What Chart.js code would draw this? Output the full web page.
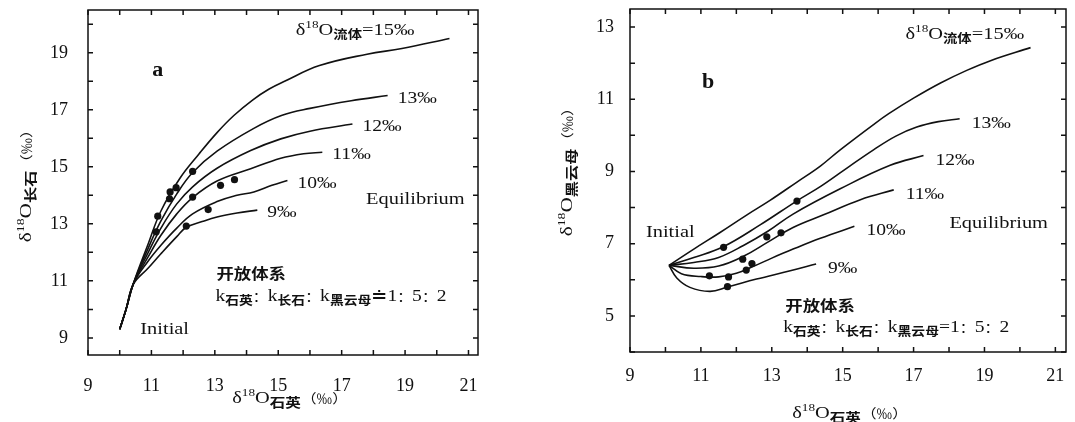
<!DOCTYPE html>
<html>
<head>
<meta charset="utf-8">
<script src="https://cdn.jsdelivr.net/npm/chart.js@4.4.0/dist/chart.umd.min.js"></script>
<style>
    body { margin: 0; background: #fff; width: 1075px; height: 422px; overflow: hidden; position: relative; }
    .panel { position: absolute; top: 0; height: 422px; }
    #wrapA { left: 0; width: 540px; }
    #wrapB { left: 540px; width: 535px; }
</style>
</head>
<body>
<div class="panel" id="wrapA"><canvas id="chartA"></canvas></div>
<div class="panel" id="wrapB"><canvas id="chartB"></canvas></div>
<script>
// tick labels
const xTicks = [9, 11, 13, 15, 17, 19, 21];
const yTicksA = [9, 11, 13, 15, 17, 19];
const yTicksB = [5, 7, 9, 11, 13];

// fluid δ18O of each curve (‰), same order as the curve lists below
const fluidValues = [15, 13, 12, 11, 10, 9];

// panel a: δ18O quartz vs δ18O feldspar
const curveA15 = [[10.0, 9.3], [10.2, 10.0], [10.43, 10.9], [10.9, 12.3], [11.3, 13.45], [11.9, 14.6], [12.5, 15.45], [13.07, 16.2], [13.6, 16.8], [14.2, 17.35], [14.7, 17.72], [15.2, 18.0], [16.3, 18.55], [17.8, 18.95], [18.9, 19.15], [20.4, 19.5]];
const curveA13 = [[10.0, 9.3], [10.2, 10.0], [10.43, 10.9], [10.9, 12.15], [11.3, 13.1], [11.8, 14.05], [12.3, 14.8], [13.07, 15.55], [14.23, 16.35], [15.1, 16.8], [16.0, 17.05], [17.3, 17.32], [18.45, 17.5]];
const curveA12 = [[10.0, 9.3], [10.2, 10.0], [10.43, 10.9], [10.9, 12.0], [11.3, 12.85], [11.8, 13.7], [12.3, 14.3], [13.07, 14.95], [14.13, 15.57], [15.08, 15.98], [16.0, 16.25], [17.34, 16.5]];
const curveA11 = [[10.0, 9.3], [10.2, 10.0], [10.43, 10.9], [10.9, 11.85], [11.3, 12.6], [11.8, 13.35], [12.3, 13.92], [13.07, 14.5], [14.13, 14.93], [15.08, 15.3], [15.8, 15.46], [16.39, 15.51]];
const curveA10 = [[10.0, 9.3], [10.2, 10.0], [10.43, 10.9], [10.9, 11.7], [11.3, 12.25], [11.8, 12.85], [12.3, 13.35], [13.07, 13.78], [13.7, 14.0], [14.23, 14.12], [14.8, 14.35], [15.29, 14.52]];
const curveA9 = [[10.0, 9.3], [10.2, 10.0], [10.43, 10.88], [10.9, 11.45], [11.3, 11.95], [11.8, 12.55], [12.1, 12.88], [12.6, 13.08], [13.07, 13.24], [13.7, 13.38], [14.34, 13.48]];
const samplesA = [[11.2, 13.27], [11.15, 12.72], [11.59, 14.12], [11.57, 13.88], [11.78, 14.27], [12.3, 14.84], [12.3, 13.94], [13.18, 14.35], [13.62, 14.55], [12.79, 13.5], [12.1, 12.92]];

// panel b: δ18O quartz vs δ18O biotite
const curveB15 = [[10.1, 6.4], [10.8, 6.85], [11.54, 7.31], [12.3, 7.8], [12.95, 8.2], [13.7, 8.7], [14.37, 9.15], [14.93, 9.6], [15.87, 10.3], [16.3, 10.6], [17.0, 11.03], [17.76, 11.45], [18.5, 11.8], [19.17, 12.07], [20.3, 12.43]];
const curveB13 = [[10.1, 6.4], [10.8, 6.62], [11.6, 6.9], [12.67, 7.52], [13.7, 8.18], [14.4, 8.6], [15.2, 9.15], [15.87, 9.6], [16.5, 9.98], [17.09, 10.23], [17.7, 10.38], [18.3, 10.46]];
const curveB12 = [[10.1, 6.4], [10.8, 6.48], [11.5, 6.62], [12.2, 6.95], [12.9, 7.35], [13.6, 7.82], [14.93, 8.52], [16.34, 9.17], [17.28, 9.44]];
const curveB11 = [[10.1, 6.4], [10.8, 6.32], [11.5, 6.38], [12.2, 6.65], [12.9, 7.05], [13.6, 7.45], [14.46, 7.8], [15.5, 8.22], [16.44, 8.49]];
const curveB10 = [[10.1, 6.4], [10.45, 6.17], [11.0, 6.09], [11.5, 6.08], [12.0, 6.18], [12.5, 6.38], [13.0, 6.6], [13.6, 6.85], [14.37, 7.15], [15.33, 7.48]];
const curveB9 = [[10.1, 6.4], [10.32, 6.05], [10.69, 5.79], [11.26, 5.68], [11.75, 5.8], [12.57, 6.02], [13.52, 6.25], [14.25, 6.44]];
const samplesB = [[11.64, 6.9], [13.71, 8.18], [12.86, 7.19], [13.26, 7.3], [12.18, 6.57], [12.44, 6.45], [12.28, 6.27], [11.24, 6.11], [11.78, 6.08], [11.75, 5.81]];

const SERIF = '"Liberation Serif", "Times New Roman", serif';
const CJK = '"Noto Sans CJK SC", sans-serif';
const INK = '#111';

const serif = (t, size = 17, dy = 0, weight = '') => ({ t, font: `${weight} ${size}px ${SERIF}`, dy });
const cjk = (t, size = 12, dy = 4, weight = 'bold') => ({ t, font: `${weight} ${size}px ${CJK}`, dy });
const delta18O = (subText, subSize = 12) => [serif('δ'), serif('18', 11, -7), serif('O'), cjk(subText, subSize, 4)];

// draws a line of mixed-size text runs, y is the middle of the main text
const drawRuns = (ctx, runs, x, y, { align = 'left', rotate = 0, stretch = 1.2 } = {}) => {
    ctx.save();
    ctx.translate(x, y);
    if (rotate) ctx.rotate(rotate);
    ctx.scale(stretch, 1);
    let total = 0;
    runs.forEach(r => { ctx.font = r.font; r.w = ctx.measureText(r.t).width; total += r.w; });
    let cx = align === 'center' ? -total / 2 : 0;
    ctx.fillStyle = INK;
    ctx.textBaseline = 'alphabetic';
    runs.forEach(r => { ctx.font = r.font; ctx.fillText(r.t, cx, 6 + r.dy); cx += r.w; });
    ctx.restore();
};

const framePlugin = {
    id: 'frame',
    afterDatasetsDraw(chart) {
        const { ctx, chartArea: { left, right, top, bottom }, scales: { x, y } } = chart;
        ctx.save();
        ctx.strokeStyle = INK;
        ctx.lineWidth = 1.5;
        ctx.strokeRect(left, top, right - left, bottom - top);
        ctx.beginPath();
        for (let v = Math.ceil(x.min); v <= x.max; v++) {
            const px = x.getPixelForValue(v);
            ctx.moveTo(px, bottom); ctx.lineTo(px, bottom - 5);
            ctx.moveTo(px, top); ctx.lineTo(px, top + 5);
        }
        for (let v = Math.ceil(y.min); v <= y.max; v++) {
            const py = y.getPixelForValue(v);
            ctx.moveTo(left, py); ctx.lineTo(left + 5, py);
            ctx.moveTo(right, py); ctx.lineTo(right - 5, py);
        }
        ctx.stroke();
        ctx.restore();
    }
};

const textPlugin = (cfg, curves) => ({
    id: 'texts',
    afterDraw(chart) {
        const { ctx, scales: { x, y } } = chart;
        cfg.notes.forEach(n => drawRuns(ctx, n.runs, x.getPixelForValue(n.x), y.getPixelForValue(n.y), { stretch: n.stretch || 1.2 }));
        curves.slice(1).forEach((c, i) => {
            const [lx, ly] = c[c.length - 1];
            drawRuns(ctx, [serif(`${fluidValues[i + 1]}‰`)], x.getPixelForValue(lx) + cfg.labelOffset[0], y.getPixelForValue(ly) + cfg.labelOffset[1], { stretch: 1.15 });
        });
        drawRuns(ctx, cfg.xTitle.runs, cfg.xTitle.at[0], cfg.xTitle.at[1], { align: 'center' });
        drawRuns(ctx, cfg.yTitle.runs, cfg.yTitle.at[0], cfg.yTitle.at[1], { align: 'center', rotate: -Math.PI / 2, stretch: 1.25 });
    }
});

// drop the extra room Chart.js keeps for the end tick labels
const noScalePadding = s => { s.paddingTop = 0; s.paddingBottom = 0; s.paddingLeft = 0; s.paddingRight = 0; };

const makeChart = (id, curves, samples, yTicks, cfg) => {
    const tickFont = { family: SERIF, size: 18 };
    const datasets = curves.map(c => ({
        data: c.map(([x, y]) => ({ x, y })),
        showLine: true,
        borderColor: INK,
        borderWidth: 1.6,
        pointRadius: 0,
        tension: 0.4,
        fill: false,
    }));
    datasets.push({
        data: samples.map(([x, y]) => ({ x, y })),
        showLine: false,
        pointRadius: 3.6,
        pointBackgroundColor: INK,
        pointBorderWidth: 0,
    });
    return new Chart(document.getElementById(id), {
        type: 'scatter',
        data: { datasets },
        options: {
            responsive: true,
            maintainAspectRatio: false,
            animation: false,
            layout: { padding: { top: cfg.padTop, right: cfg.padRight, left: 0, bottom: 0 } },
            plugins: { legend: { display: false }, tooltip: { enabled: false } },
            scales: {
                x: {
                    type: 'linear', min: 9, max: 21.3,
                    grid: { display: false }, border: { display: false },
                    afterBuildTicks: s => { s.ticks = xTicks.map(v => ({ value: v })); },
                    afterFit: s => { s.height = cfg.xHeight; noScalePadding(s); },
                    ticks: { font: tickFont, color: INK, padding: cfg.xPad, maxRotation: 0, autoSkip: false },
                },
                y: {
                    type: 'linear', min: cfg.yMin, max: cfg.yMax,
                    grid: { display: false }, border: { display: false },
                    afterBuildTicks: s => { s.ticks = yTicks.map(v => ({ value: v })); },
                    afterFit: s => { s.width = cfg.yWidth; noScalePadding(s); },
                    ticks: { font: tickFont, color: INK, padding: cfg.yPad, autoSkip: false },
                },
            },
        },
        plugins: [framePlugin, textPlugin(cfg, curves)],
    });
};

const kRatio = (sep) => [
    serif('k'), cjk('石英', 12, 4), cjk('：', 13, 0, ''),
    serif('k'), cjk('长石', 12, 4), cjk('：', 13, 0, ''),
    serif('k'), cjk('黑云母', 12, 4), serif(sep), serif('1'), cjk('：', 13, 0, ''), serif('5'), cjk('：', 13, 0, ''), serif('2'),
];

makeChart('chartA', [curveA15, curveA13, curveA12, curveA11, curveA10, curveA9], samplesA, yTicksA, {
    padTop: 10, padRight: 62, xHeight: 67, yWidth: 88, xPad: 12, yPad: 12, yMin: 8.4, yMax: 20.5,
    labelOffset: [10, 1],
    notes: [
        { x: 11.03, y: 18.4, runs: [serif('a', 20, 0, 'bold')], stretch: 1.1 },
        { x: 15.55, y: 19.84, runs: [...delta18O('流体'), serif('=15‰')] },
        { x: 17.77, y: 13.9, runs: [serif('Equilibrium')] },
        { x: 10.65, y: 9.35, runs: [serif('Initial')] },
        { x: 13.05, y: 11.27, runs: [cjk('开放体系', 14.5, 0)] },
        { x: 13.02, y: 10.5, runs: kRatio('≐'), stretch: 1.15 },
    ],
    xTitle: { at: [290, 397], runs: [...delta18O('石英', 13), cjk('（‰）', 13, 0, '')] },
    yTitle: { at: [25, 182], runs: [...delta18O('长石', 13), cjk('（‰）', 13, 0, '')] },
});

makeChart('chartB', [curveB15, curveB13, curveB12, curveB11, curveB10, curveB9], samplesB, yTicksB, {
    padTop: 9, padRight: 9, xHeight: 70, yWidth: 90, xPad: 5, yPad: 8, yMin: 4, yMax: 13.5,
    labelOffset: [12, 3],
    notes: [
        { x: 11.03, y: 11.47, runs: [serif('b', 20, 0, 'bold')], stretch: 1.1 },
        { x: 16.77, y: 12.83, runs: [...delta18O('流体'), serif('=15‰')] },
        { x: 18.01, y: 7.61, runs: [serif('Equilibrium')] },
        { x: 9.45, y: 7.36, runs: [serif('Initial')] },
        { x: 13.38, y: 5.31, runs: [cjk('开放体系', 14.5, 0)] },
        { x: 13.32, y: 4.72, runs: kRatio('='), stretch: 1.15 },
    ],
    xTitle: { at: [310, 412], runs: [...delta18O('石英', 13), cjk('（‰）', 13, 0, '')] },
    yTitle: { at: [26, 168], runs: [...delta18O('黑云母', 13), cjk('（‰）', 13, 0, '')] },
});
</script>
</body>
</html>
